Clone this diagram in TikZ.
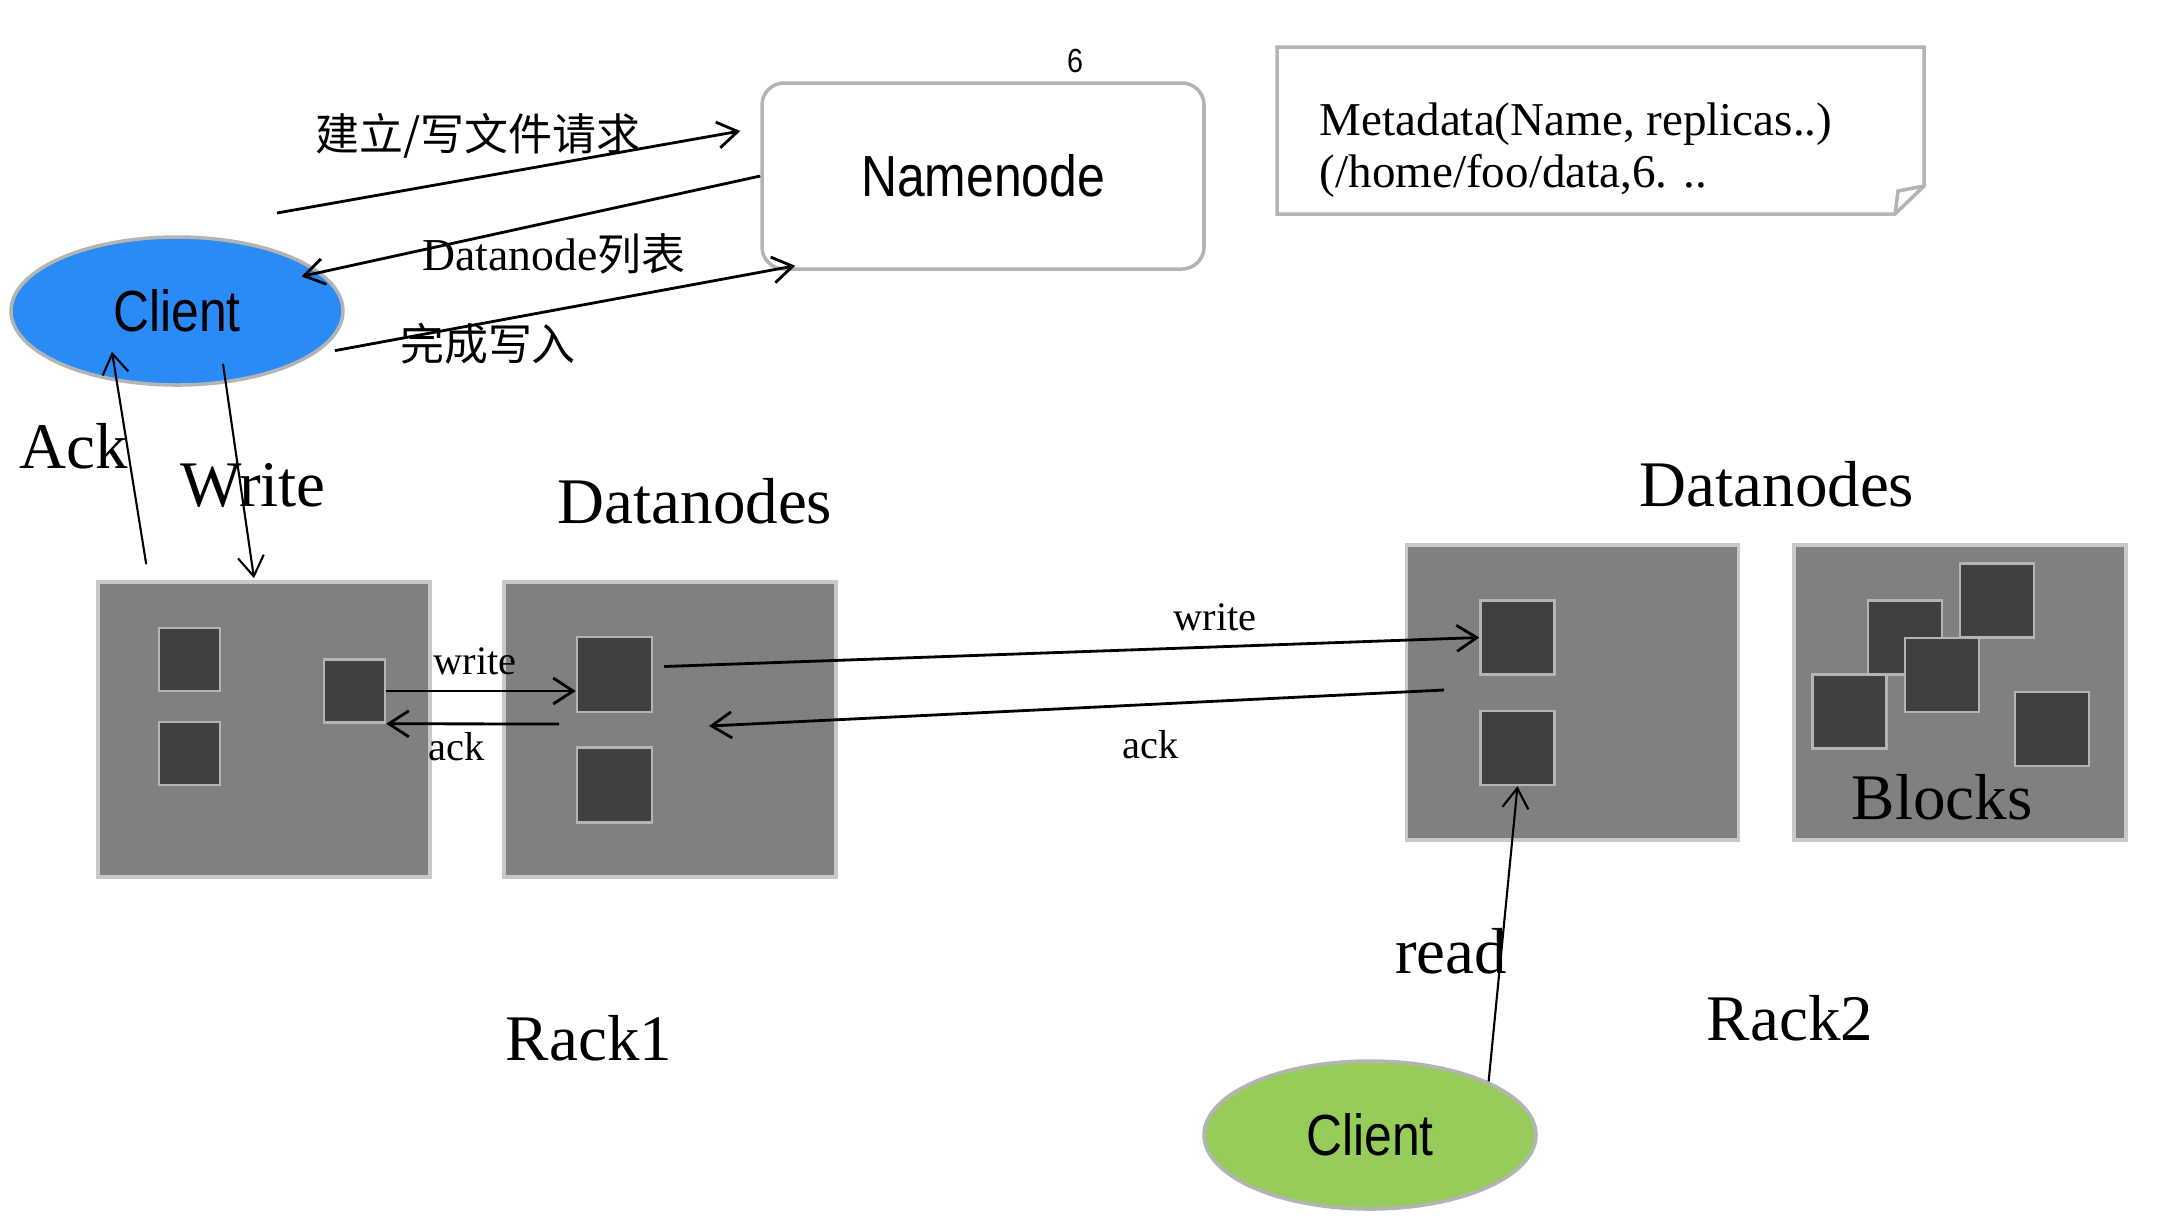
\documentclass[tikz,border=0pt]{standalone}
\usepackage{fontspec}
\usetikzlibrary{arrows.meta,shapes.geometric}
\setmainfont{Liberation Serif}
\newfontfamily\helv[FakeStretch=0.86]{Liberation Sans}
\newfontfamily\cjk{Noto Sans CJK SC}
\definecolor{rackgray}{HTML}{808080}
\definecolor{blockgray}{HTML}{404040}
\definecolor{rimgray}{HTML}{C8C8C8}
\definecolor{clientblue}{HTML}{2B8BF6}
\definecolor{clientgreen}{HTML}{96CC5A}
\tikzset{
  arr/.style={-{Straight Barb[length=2mm,width=2.6mm]},line width=0.8pt},
  thinarr/.style={arr,line width=0.6pt},
  datanode/.style={draw=rimgray,fill=rackgray,line width=1pt,inner sep=0pt,
    minimum width=3.32cm,minimum height=2.95cm},
  block/.style={draw=rimgray!90!black,fill=blockgray,line width=0.7pt,inner sep=0pt,
    minimum width=#1,minimum height=#1},
  block/.default=0.74cm,
  smallblock/.style={block,minimum width=0.61cm,minimum height=0.63cm},
  client/.style={ellipse,draw=rimgray!90!black,line width=1pt,inner sep=0pt,
    minimum width=3.32cm,minimum height=1.48cm,font=\helv\fontsize{16.5}{18}\selectfont},
  big/.style={font=\fontsize{18.5}{20}\selectfont},
  small/.style={font=\fontsize{11.5}{13}\selectfont},
  zh/.style={font=\cjk\fontsize{12.5}{14}\selectfont},
}
\def\dar{\draw[arr]}

\begin{document}
\begin{tikzpicture}[x=0.1mm,y=-0.1mm]
  \useasboundingbox (0,0) rectangle (2162,1230);
  % namenode and metadata
  \node[draw=rimgray!90!black,line width=1pt,rounded corners=0.22cm,
        minimum width=4.42cm,minimum height=1.86cm,
        font=\helv\fontsize{16.5}{18}\selectfont] (nn) at (983,176) {\raisebox{-0.4mm}{Namenode}};
  \node[font=\helv\fontsize{9.5}{11}\selectfont] (six) at (1075,61) {6};
  \node[anchor=west,align=left,inner sep=0pt,font=\fontsize{13.4}{14.8}\selectfont]
        (meta) at (1319,150) {Metadata(Name, replicas..)\\(/home/foo/data,6. ..};
  \draw[rimgray!90!black,line width=1pt] (1277,47) -- (1924,47) -- (1924,186)
        -- (1895,214) -- (1277,214) -- cycle;
  \draw[rimgray!90!black,line width=1pt] (1895,214) -- (1898,191) -- (1924,186);
  % clients
  \node[client,fill=clientblue]  (cl)  at (177,311)  {Client};
  \node[client,fill=clientgreen] (cl2) at (1370,1135) {Client};
  % datanodes
  \node[datanode] (dn1) at (264,729.5) {};
  \node[datanode] (dn2) at (670,729.5) {};
  \node[datanode] (dn3) at (1572.5,692.5) {};
  \node[datanode] (dn4) at (1960,692.5) {};
  \node[smallblock] (ba) at (189.5,659.5) {};
  \node[smallblock] (bb) at (189.5,753.5) {};
  \node[smallblock] (bc) at (354.5,691) {};
  \node[block=0.75cm] (bd) at (614.5,674.5) {};
  \node[block=0.75cm] (be) at (614.5,785) {};
  \node[block] (bf) at (1517.5,637.5) {};
  \node[block] (bg) at (1517.5,748) {};
  \node[block] (bh) at (1905,637.5) {};
  \node[block] (bi) at (1997,600.5) {};
  \node[block] (bj) at (1942,675) {};
  \node[block] (bk) at (1849.5,711.5) {};
  \node[block] (bl) at (2052,729) {};
  % labels
  \node[zh] (reqlbl)  at (478,136) {建立/写文件请求};
  \node[font=\fontsize{13}{15}\selectfont] (listlbl) at (554,254) {Datanode{\cjk\fontsize{12.5}{14}\selectfont 列表}};
  \node[zh] (donelbl) at (488,344) {完成写入};
  \node[big] (acklbl)   at (74,446)   {Ack};
  \node[big] (writelbl) at (253,485)  {Write};
  \node[big] (dnlbl1)   at (695,501)  {Datanodes};
  \node[big] (dnlbl2)   at (1777,484) {Datanodes};
  \node[big] (rack1)    at (589,1038) {Rack1};
  \node[big] (rack2)    at (1790,1018) {Rack2};
  \node[big] (readlbl)  at (1451,951) {read};
  \node[big] (blocks)   at (1942,797) {Blocks};
  \node[small] (w1lbl)   at (475,661)  {write};
  \node[small] (ack1lbl) at (457,747)  {ack};
  \node[small] (w2lbl)   at (1215,617) {write};
  \node[small] (ack2lbl) at (1151,745) {ack};
  % connectors
  \coordinate (reqfrom) at (277,213);
  \coordinate (ack1from) at (559,724);
  \coordinate (ack2from) at (1444,690);
  \coordinate (ack2to) at (709,726);
  \dar (reqfrom) -- ([shift={(-20,-45)}]nn.west);
  \dar (nn.west) -- ([shift={(-17,6)}]cl.16);
  \dar ([shift={(11,3)}]cl.-14) -- ([shift={(35,-5)}]nn.south west);
  \draw[thinarr] ([shift={(50,-16)}]dn1.north west) -- ([shift={(-65,-35)}]cl.south);
  \draw[thinarr] ([shift={(46,-23)}]cl.south) -- ([shift={(-10,-2)}]dn1.north);
  \dar (bc.east) -- (bc.east -| bd.west);
  \dar (ack1from) -- (bc.south east);
  \dar ([shift={(11,-8)}]bd.east) -- (bf.west);
  \dar (ack2from) -- (ack2to);
  \draw[thinarr] (cl2.north east) -- (bg.south);
\end{tikzpicture}
\end{document}
